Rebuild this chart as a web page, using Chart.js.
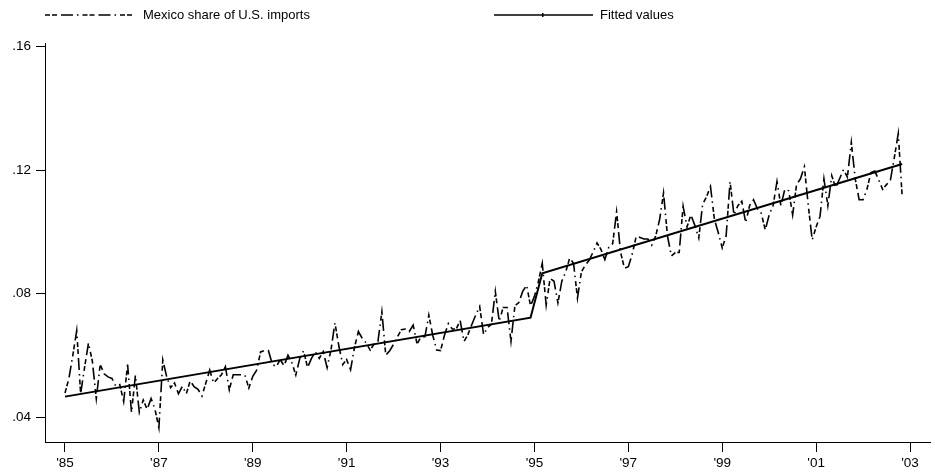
<!DOCTYPE html>
<html>
<head>
<meta charset="utf-8">
<script src="https://cdn.jsdelivr.net/npm/chart.js@4/dist/chart.umd.min.js"></script>
<style>
  html, body { margin: 0; padding: 0; background: #fff; }
  #wrap { width: 935px; height: 475px; position: relative; }
</style>
</head>
<body>
<div id="wrap"><canvas id="chart" width="935" height="475"></canvas></div>
<script>
// monthly series, Jan 1985 .. Nov 2002 (one row per year)
const startYear = 1985;
const shareValues = [
    0.0478, 0.0525, 0.0600, 0.0680, 0.0475, 0.0560, 0.0640, 0.0580, 0.0460, 0.0570, 0.0540, 0.0530,
    0.0525, 0.0500, 0.0505, 0.0450, 0.0570, 0.0415, 0.0535, 0.0415, 0.0455, 0.0425, 0.0460, 0.0425,
    0.0365, 0.0585, 0.0530, 0.0495, 0.0510, 0.0475, 0.0500, 0.0475, 0.0517, 0.0498, 0.0490, 0.0468,
    0.0510, 0.0552, 0.0510, 0.0525, 0.0537, 0.0563, 0.0488, 0.0537, 0.0537, 0.0537, 0.0535, 0.0494,
    0.0532, 0.0552, 0.0611, 0.0615, 0.0615, 0.0571, 0.0563, 0.0586, 0.0566, 0.0600, 0.0576, 0.0536,
    0.0589, 0.0615, 0.0560, 0.0590, 0.0611, 0.0590, 0.0612, 0.0560, 0.0618, 0.0705, 0.0630, 0.0570,
    0.0586, 0.0553, 0.0626, 0.0677, 0.0654, 0.0640, 0.0617, 0.0636, 0.0645, 0.0741, 0.0600, 0.0615,
    0.0636, 0.0660, 0.0683, 0.0685, 0.0677, 0.0698, 0.0636, 0.0660, 0.0660, 0.0730, 0.0665, 0.0617,
    0.0615, 0.0665, 0.0703, 0.0685, 0.0685, 0.0713, 0.0645, 0.0667, 0.0700, 0.0731, 0.0758, 0.0667,
    0.0690, 0.0700, 0.0807, 0.0710, 0.0755, 0.0755, 0.0645, 0.0760, 0.0771, 0.0807, 0.0827, 0.0760,
    0.0791, 0.0838, 0.0898, 0.0762, 0.0849, 0.0840, 0.0770, 0.0840, 0.0870, 0.0915, 0.0898, 0.0785,
    0.0870, 0.0892, 0.0908, 0.0935, 0.0964, 0.0943, 0.0910, 0.0950, 0.0962, 0.1065, 0.0935, 0.0882,
    0.0887, 0.0928, 0.0985, 0.0982, 0.0977, 0.0977, 0.0957, 0.0987, 0.1040, 0.1126, 0.0987, 0.0922,
    0.0933, 0.0933, 0.1083, 0.1016, 0.1055, 0.1021, 0.0980, 0.1090, 0.1114, 0.1147, 0.1041, 0.0997,
    0.0948, 0.0987, 0.1163, 0.1055, 0.1085, 0.1099, 0.1030, 0.1085, 0.1104, 0.1075, 0.1060, 0.1006,
    0.1055, 0.1085, 0.1163, 0.1085, 0.1138, 0.1133, 0.1055, 0.1153, 0.1172, 0.1211, 0.1085, 0.0974,
    0.1016, 0.1050, 0.1172, 0.1085, 0.1182, 0.1143, 0.1172, 0.1202, 0.1177, 0.1290, 0.1172, 0.1104,
    0.1104, 0.1138, 0.1192, 0.1197, 0.1168, 0.1138, 0.1153, 0.1168, 0.1241, 0.1319, 0.1114
];

// fitted trend: knots (month index from Jan 1985) and values
const fitMonths = [0, 119, 122, 214];
const fitValues = [0.0466, 0.0722, 0.0866, 0.1220];

const xTickYears = [1985, 1987, 1989, 1991, 1993, 1995, 1997, 1999, 2001, 2003];
const xTickLabels = ["'85", "'87", "'89", "'91", "'93", "'95", "'97", "'99", "'01", "'03"];
const yTickValues = [0.04, 0.08, 0.12, 0.16];
const yTickLabels = ['.04', '.08', '.12', '.16'];

const seriesNames = ['Mexico share of U.S. imports', 'Fitted values'];

const sharePoints = shareValues.map((v, i) => ({ x: startYear + i / 12, y: v }));
const fitPoints = fitMonths.map((m, i) => ({ x: startYear + m / 12, y: fitValues[i] }));

const FONT = 'Liberation Sans, Arial, Helvetica, sans-serif';
const dashPattern = [5, 2, 5, 4, 12, 4, 1.5, 4];

// draws the two legend keys across the top, Stata style
const topLegend = {
    id: 'topLegend',
    afterDraw(chart) {
        const ctx = chart.ctx;
        const y = 15;
        ctx.save();
        ctx.strokeStyle = '#000';
        ctx.fillStyle = '#000';
        ctx.font = '13px ' + FONT;
        ctx.textBaseline = 'middle';

        ctx.lineWidth = 1.6;
        ctx.setLineDash(dashPattern);
        ctx.beginPath();
        ctx.moveTo(45, y);
        ctx.lineTo(135, y);
        ctx.stroke();
        ctx.setLineDash([]);
        ctx.fillText(seriesNames[0], 143, y);

        ctx.lineWidth = 1.6;
        ctx.beginPath();
        ctx.moveTo(494, y);
        ctx.lineTo(593, y);
        ctx.stroke();
        ctx.fillRect(542, y - 2, 1.5, 4);
        ctx.fillText(seriesNames[1], 600, y);
        ctx.restore();
    }
};

const config = {
    type: 'line',
    data: {
        datasets: [
            {
                label: seriesNames[0],
                data: sharePoints,
                borderColor: '#000',
                borderWidth: 1.6,
                borderDash: dashPattern,
                pointRadius: 0,
                tension: 0,
                fill: false,
            },
            {
                label: seriesNames[1],
                data: fitPoints,
                borderColor: '#000',
                borderWidth: 2,
                pointRadius: 0,
                tension: 0,
                fill: false,
            }
        ]
    },
    options: {
        responsive: false,
        animation: false,
        devicePixelRatio: 1,
        layout: { padding: { top: 43, right: 5, left: 0, bottom: 0 } },
        plugins: {
            legend: { display: false },
            tooltip: { enabled: false },
        },
        scales: {
            x: {
                type: 'linear',
                min: 1984.574,
                max: 2003.426,
                afterBuildTicks: (scale) => {
                    scale.ticks = xTickYears.map(v => ({ value: v }));
                },
                afterFit: (scale) => { scale.height = 33; },
                ticks: {
                    autoSkip: false,
                    maxRotation: 0,
                    padding: 3,
                    color: '#000',
                    font: { family: FONT, size: 13.5 },
                    callback: (v) => xTickLabels[xTickYears.indexOf(v)],
                },
                grid: {
                    drawOnChartArea: false,
                    tickLength: 10,
                    color: '#000',
                },
                border: { display: true, color: '#000', width: 1 },
            },
            y: {
                type: 'linear',
                min: 0.0319,
                max: 0.1612,
                afterBuildTicks: (scale) => {
                    scale.ticks = yTickValues.map(v => ({ value: v }));
                },
                afterFit: (scale) => { scale.width = 45; },
                ticks: {
                    padding: 5,
                    color: '#000',
                    font: { family: FONT, size: 13.5 },
                    callback: (v) => yTickLabels[yTickValues.indexOf(v)],
                },
                grid: {
                    drawOnChartArea: false,
                    tickLength: 9,
                    color: '#000',
                },
                border: { display: true, color: '#000', width: 1 },
            }
        }
    },
    plugins: [topLegend]
};

const ctx = document.getElementById('chart').getContext('2d');
new Chart(ctx, config);
</script>
</body>
</html>
